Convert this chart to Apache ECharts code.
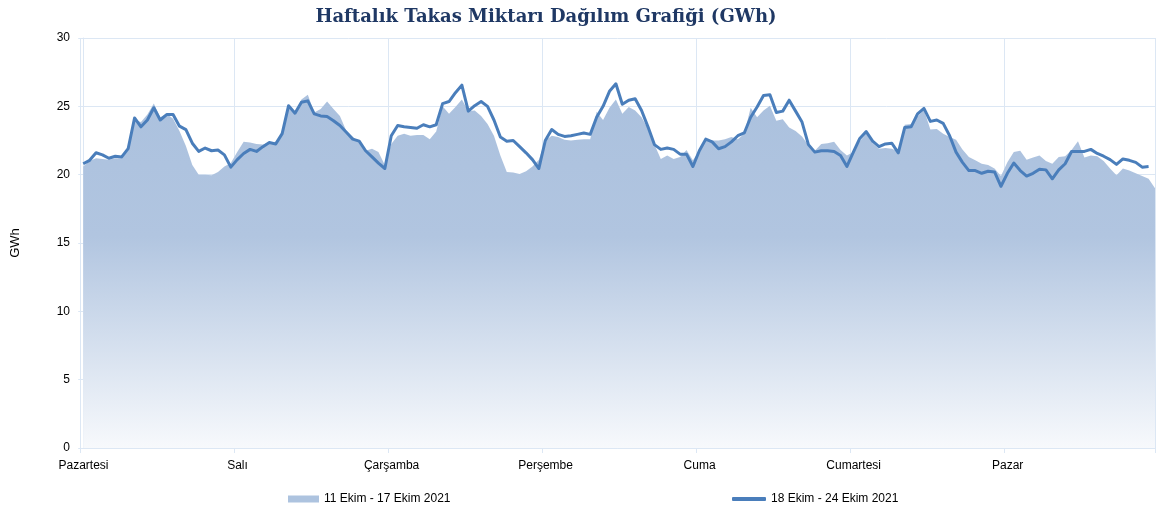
<!DOCTYPE html>
<html>
<head>
<meta charset="utf-8">
<title>Haftalık Takas Miktarı Dağılım Grafiği</title>
<script src="https://cdn.jsdelivr.net/npm/echarts/dist/echarts.min.js"></script>
<style>
  html, body { margin: 0; padding: 0; background: #fff; }
  #main { width: 1158px; height: 510px; }
</style>
</head>
<body>
<div id="main"></div>
<script>
// gün etiketleri (her 24 saatte bir)
const days = ['Pazartesi', 'Salı', 'Çarşamba', 'Perşembe', 'Cuma', 'Cumartesi', 'Pazar'];
const yTicks = [0, 5, 10, 15, 20, 25, 30];

const prevWeekName = '11 Ekim - 17 Ekim 2021';
const thisWeekName = '18 Ekim - 24 Ekim 2021';

// 11-17 Ekim saatlik değerler (GWh) - alan
const prevWeek = [
  20.6, 21.0, 21.2, 21.15, 21.1, 21.2, 21.2, 21.8, 24.0, 23.85, 24.4, 25.2,
  24.2, 24.45, 24.1, 23.2, 22.1, 20.7, 20.0, 20.0, 19.95, 20.2, 20.6, 20.85,
  21.65, 22.4, 22.35, 22.25, 22.2, 22.35, 22.4, 23.0, 25.0, 24.55, 25.5, 25.85,
  24.55, 24.8, 25.35, 24.8, 24.3, 23.2, 22.75, 22.4, 21.75, 21.9, 21.65, 20.7,
  22.25, 22.85, 23.0, 22.85, 22.9, 22.9, 22.6, 23.15, 25.0, 24.45, 24.95, 25.5,
  24.65, 24.7, 24.3, 23.7, 22.85, 21.4, 20.2, 20.15, 20.05, 20.25, 20.6, 21.1,
  22.5, 22.85, 22.75, 22.55, 22.5, 22.55, 22.6, 22.6, 24.6, 24.0, 24.9, 25.5,
  24.45, 24.95, 24.7, 24.2, 23.35, 22.2, 21.15, 21.4, 21.15, 21.3, 21.8, 21.05,
  21.75, 22.5, 22.5, 22.5, 22.6, 22.75, 22.6, 23.0, 24.9, 24.2, 24.7, 25.05,
  23.95, 24.05, 23.45, 23.2, 22.8, 22.15, 21.75, 22.25, 22.3, 22.4, 21.8, 21.4,
  21.65, 22.45, 23.0, 22.3, 21.9, 21.95, 21.9, 21.7, 23.65, 23.7, 24.25, 24.75,
  23.3, 23.35, 23.0, 22.75, 22.55, 21.85, 21.3, 21.05, 20.8, 20.7, 20.45, 19.9,
  20.9, 21.65, 21.75, 21.1, 21.25, 21.4, 21.0, 20.8, 21.3, 21.35, 21.8, 22.45,
  21.25, 21.4, 21.35, 21.0, 20.45, 19.95, 20.45, 20.3, 20.1, 19.9, 19.7, 19.0
];

// 18-24 Ekim saatlik değerler (GWh) - çizgi (son saat yok)
const thisWeek = [
  20.8, 21.05, 21.6, 21.45, 21.2, 21.35, 21.3, 21.9, 24.15, 23.5, 24.0, 24.9,
  24.0, 24.4, 24.4, 23.55, 23.3, 22.3, 21.7, 21.95, 21.75, 21.8, 21.45, 20.55,
  21.1, 21.55, 21.85, 21.7, 22.05, 22.35, 22.25, 23.0, 25.05, 24.5, 25.3, 25.4,
  24.45, 24.3, 24.25, 23.95, 23.6, 23.1, 22.6, 22.45, 21.75, 21.3, 20.85, 20.45,
  22.85, 23.6, 23.5, 23.45, 23.4, 23.65, 23.5, 23.65, 25.2, 25.35, 26.0, 26.55,
  24.65, 25.05, 25.35, 25.0, 24.0, 22.75, 22.45, 22.5, 22.05, 21.6, 21.1, 20.45,
  22.5, 23.3, 22.95, 22.8, 22.85, 22.95, 23.05, 22.95, 24.2, 25.0, 26.1, 26.65,
  25.15, 25.45, 25.55, 24.7, 23.5, 22.2, 21.85, 21.95, 21.85, 21.5, 21.5, 20.6,
  21.75, 22.6, 22.4, 21.9, 22.05, 22.4, 22.85, 23.05, 24.2, 24.95, 25.8, 25.85,
  24.55, 24.65, 25.45, 24.65, 23.85, 22.2, 21.65, 21.75, 21.75, 21.7, 21.4, 20.6,
  21.65, 22.65, 23.15, 22.45, 22.05, 22.25, 22.3, 21.6, 23.45, 23.5, 24.45, 24.85,
  23.9, 24.0, 23.75, 22.85, 21.65, 20.9, 20.3, 20.3, 20.1, 20.25, 20.2, 19.15,
  20.1, 20.85, 20.3, 19.9, 20.1, 20.4, 20.35, 19.7, 20.35, 20.8, 21.7, 21.7,
  21.7, 21.85, 21.55, 21.35, 21.1, 20.75, 21.15, 21.05, 20.9, 20.55, 20.6
];

const gridLine = '#dce7f4';
const labelFont = 'Liberation Sans';

const chart = echarts.init(document.getElementById('main'));

chart.setOption({
  animation: false,
  backgroundColor: '#fff',
  title: {
    text: 'Haftalık Takas Miktarı Dağılım Grafiği (GWh)',
    left: 541,
    top: 3,
    textAlign: 'center',
    textStyle: {
      fontFamily: 'DejaVu Serif',
      fontWeight: 'bold',
      fontSize: 18,
      color: '#1f3864'
    }
  },
  legend: [
    {
      data: [prevWeekName],
      left: 288,
      top: 493,
      padding: 0,
      icon: 'rect',
      itemWidth: 31,
      itemHeight: 7,
      itemGap: 4,
      itemStyle: { color: '#adc3df' },
      textStyle: { fontFamily: labelFont, fontSize: 12, color: '#000' }
    },
    {
      data: [thisWeekName],
      left: 732,
      top: 493,
      padding: 0,
      icon: 'roundRect',
      itemWidth: 34,
      itemHeight: 4,
      itemStyle: { color: '#4a7ebb' },
      textStyle: { fontFamily: labelFont, fontSize: 12, color: '#000' }
    }
  ],
  grid: { left: 80, right: 0, top: 38, bottom: 62 },
  xAxis: {
    type: 'value',
    min: -0.5,
    max: 167,
    interval: 24,
    axisLine: { show: true, lineStyle: { color: gridLine } },
    axisTick: { show: true, length: 5, lineStyle: { color: gridLine } },
    splitLine: { show: true, lineStyle: { color: gridLine } },
    axisLabel: {
      margin: 12,
      formatter: function (v) {
        if (v > 166) return '';
        const d = days[Math.round((v + 0.5) / 24)];
        return d ? '{d|' + d + '}' : '';
      },
      rich: {
        d: { fontFamily: labelFont, fontSize: 12, color: '#000', padding: [0, 0, 0, 7] }
      }
    }
  },
  yAxis: {
    type: 'value',
    min: yTicks[0],
    max: yTicks[yTicks.length - 1],
    interval: yTicks[1] - yTicks[0],
    name: 'GWh',
    nameLocation: 'middle',
    nameGap: 58,
    nameTextStyle: { fontFamily: labelFont, fontSize: 13, color: '#000' },
    axisLine: { show: true, lineStyle: { color: gridLine } },
    axisTick: { show: true, length: 5, lineStyle: { color: gridLine } },
    splitLine: { show: true, lineStyle: { color: gridLine } },
    axisLabel: { margin: 10, fontFamily: labelFont, fontSize: 12, color: '#000' }
  },
  series: [
    {
      name: prevWeekName,
      type: 'line',
      data: prevWeek.map((v, i) => [i, v]),
      symbol: 'none',
      lineStyle: { width: 0 },
      itemStyle: { color: '#adc3df' },
      areaStyle: {
        opacity: 1,
        color: new echarts.graphic.LinearGradient(0, 0, 0, 1, [
          { offset: 0, color: '#abc1de' },
          { offset: 0.4, color: '#b1c5e0' },
          { offset: 1, color: '#f7f9fc' }
        ])
      },
      z: 1
    },
    {
      name: thisWeekName,
      type: 'line',
      data: thisWeek.map((v, i) => [i, v]),
      symbol: 'none',
      lineStyle: { width: 3, color: '#4a7ebb', join: 'round' },
      itemStyle: { color: '#4a7ebb' },
      z: 2
    }
  ]
});
</script>
</body>
</html>
